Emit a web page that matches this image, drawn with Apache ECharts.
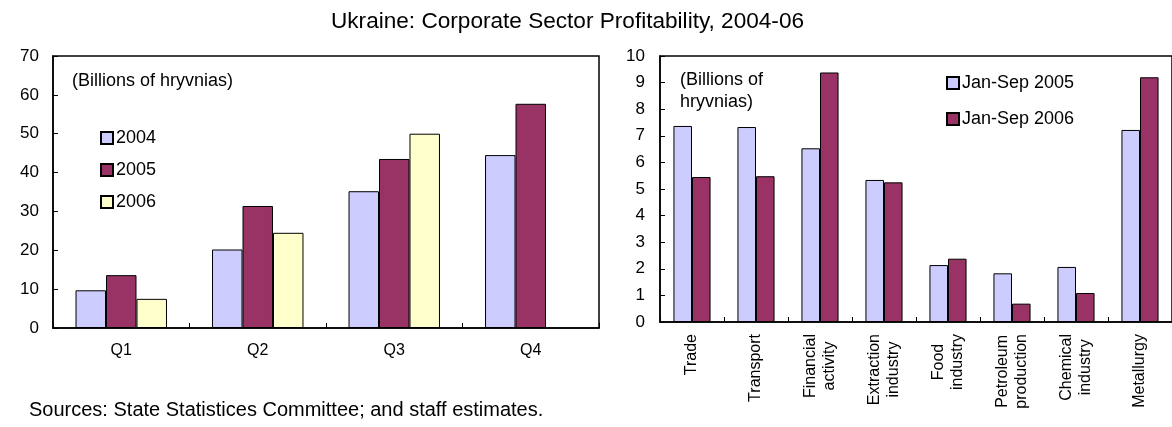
<!DOCTYPE html>
<html>
<head>
<meta charset="utf-8">
<style>
  html, body { margin: 0; padding: 0; background: #fff; }
  #chart { width: 1172px; height: 427px; }
</style>
<script src="https://cdn.jsdelivr.net/npm/echarts@6/dist/echarts.min.js"></script>
</head>
<body>
<div id="chart"></div>
<script>
// Quarterly profits (billions of hryvnias)
const quarters = ['Q1', 'Q2', 'Q3', 'Q4'];
const profits2004 = [9.7, 20.2, 35.2, 44.5];
const profits2005 = [13.6, 31.4, 43.5, 57.7];
const profits2006 = [7.5, 24.5, 50.0, null];

// Profits by sector, January-September (billions of hryvnias)
const sectors = ['Trade', 'Transport', 'Financial\nactivity', 'Extraction\nindustry',
  'Food\nindustry', 'Petroleum\nproduction', 'Chemical\nindustry', 'Metallurgy'];
const janSep2005 = [7.37, 7.33, 6.53, 5.34, 2.14, 1.83, 2.07, 7.22];
const janSep2006 = [5.45, 5.48, 9.38, 5.25, 2.38, 0.69, 1.09, 9.20];

const FONT = "'Liberation Sans', Arial, Helvetica, sans-serif";
const LAVENDER = '#CCCCFF';
const MAROON = '#993366';
const CREAM = '#FFFFCC';

const chart = echarts.init(document.getElementById('chart'), null, { renderer: 'canvas' });

const axisLineStyle = { show: true, lineStyle: { color: '#000', width: 1.5 } };
const tickStyle = { show: true, inside: true, length: 5, lineStyle: { color: '#000', width: 1 } };

function barSeries(name, data, xi, color, gapCat) {
  return {
    name: name,
    type: 'bar',
    xAxisIndex: xi,
    yAxisIndex: xi,
    data: data,
    barGap: '0%',
    barCategoryGap: gapCat,
    itemStyle: { color: color, borderColor: '#000', borderWidth: 1 },
    emphasis: { disabled: true },
    animation: false
  };
}

chart.setOption({
  animation: false,
  textStyle: { fontFamily: FONT, color: '#000' },
  grid: [
    { left: 53, right: 573, top: 56, bottom: 99, show: true, borderColor: '#000', borderWidth: 1.5, backgroundColor: 'transparent' },
    { left: 660, right: -14, top: 56, bottom: 105, show: true, borderColor: '#000', borderWidth: 1.5, backgroundColor: 'transparent' }
  ],
  xAxis: [
    {
      type: 'category', gridIndex: 0, data: quarters,
      axisLine: axisLineStyle, axisTick: tickStyle,
      axisLabel: { margin: 15, fontSize: 16, color: '#000', fontFamily: FONT }
    },
    {
      type: 'category', gridIndex: 1, data: sectors,
      axisLine: axisLineStyle, axisTick: tickStyle,
      axisLabel: {
        interval: 0, rotate: 90, margin: 12, color: '#000',
        fontSize: 16, fontFamily: FONT, lineHeight: 19,
        formatter: function (v) {
          return v.split('\n').map(function (s) { return '{c|' + s + '}'; }).join('\n');
        },
        rich: { c: { align: 'center', fontSize: 16, fontFamily: FONT, color: '#000', lineHeight: 19 } }
      }
    }
  ],
  yAxis: [
    {
      type: 'value', gridIndex: 0, min: 0, max: 70, interval: 10,
      axisLine: axisLineStyle, axisTick: tickStyle, splitLine: { show: false },
      axisLabel: { margin: 14, fontSize: 17, color: '#000', fontFamily: FONT }
    },
    {
      type: 'value', gridIndex: 1, min: 0, max: 10, interval: 1,
      axisLine: axisLineStyle, axisTick: tickStyle, splitLine: { show: false },
      axisLabel: { margin: 15, fontSize: 17, color: '#000', fontFamily: FONT }
    }
  ],
  legend: [
    {
      orient: 'vertical', left: 100, top: 129, padding: 0,
      itemWidth: 12, itemHeight: 12, itemGap: 14, icon: 'rect',
      textStyle: { fontSize: 18, fontFamily: FONT, color: '#000', padding: [0, 0, 0, -2] },
      data: ['2004', '2005', '2006'],
      selectedMode: false
    },
    {
      orient: 'vertical', left: 946, top: 74, padding: 0,
      itemWidth: 12, itemHeight: 12, itemGap: 18, icon: 'rect',
      textStyle: { fontSize: 18, fontFamily: FONT, color: '#000', padding: [0, 0, 0, -2] },
      data: ['Jan-Sep 2005', 'Jan-Sep 2006'],
      selectedMode: false
    }
  ],
  series: [
    barSeries('2004', profits2004, 0, LAVENDER, '33%'),
    barSeries('2005', profits2005, 0, MAROON, '33%'),
    barSeries('2006', profits2006, 0, CREAM, '33%'),
    barSeries('Jan-Sep 2005', janSep2005, 1, LAVENDER, '42%'),
    barSeries('Jan-Sep 2006', janSep2006, 1, MAROON, '42%')
  ],
  graphic: [
    {
      type: 'text', left: 331, top: 10, z: 10,
      style: { text: 'Ukraine: Corporate Sector Profitability, 2004-06', fontSize: 22.6, fontFamily: FONT, fill: '#000' }
    },
    {
      type: 'text', left: 72, top: 72, z: 10,
      style: { text: '(Billions of hryvnias)', fontSize: 18, fontFamily: FONT, fill: '#000' }
    },
    {
      type: 'text', left: 680, top: 69, z: 10,
      style: { text: '(Billions of\nhryvnias)', fontSize: 18, lineHeight: 22, fontFamily: FONT, fill: '#000' }
    },
    {
      type: 'text', left: 29, top: 400, z: 10,
      style: { text: 'Sources: State Statistices Committee; and staff estimates.', fontSize: 20, fontFamily: FONT, fill: '#000' }
    }
  ]
});
</script>
</body>
</html>
